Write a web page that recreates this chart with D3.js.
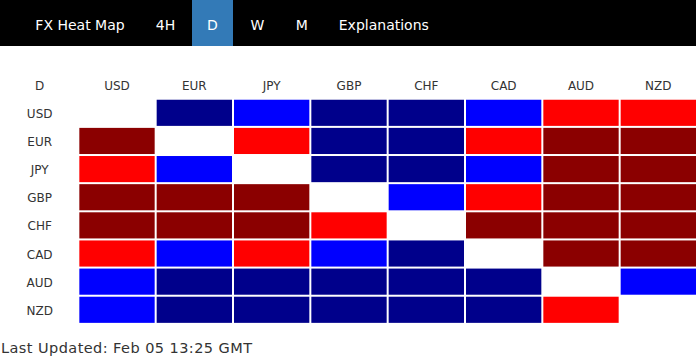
<!DOCTYPE html>
<html><head><meta charset="utf-8">
<script src="https://cdn.jsdelivr.net/npm/d3@7"></script>
<style>
html,body{margin:0;padding:0;background:#fff;}
svg{display:block;font-family:"DejaVu Sans",Verdana,sans-serif;}
</style></head>
<body>
<script>
const navItems = ["FX Heat Map","4H","D","W","M","Explanations"];
const navCenters = [80,165.5,212.5,257.5,301.7,383.8];
const activeTab = "D";
const currencies = ["USD","EUR","JPY","GBP","CHF","CAD","AUD","NZD"];
// strength levels: 2 strong up (dark blue), 1 up (blue), -1 down (red), -2 strong down (dark red), 0 = same pair
const USD = [ 0, 2, 1, 2, 2, 1,-1,-1];
const EUR = [-2, 0,-1, 2, 2,-1,-2,-2];
const JPY = [-1, 1, 0, 2, 2, 1,-2,-2];
const GBP = [-2,-2,-2, 0, 1,-1,-2,-2];
const CHF = [-2,-2,-2,-1, 0,-2,-2,-2];
const CAD = [-1, 1,-1, 1, 2, 0,-2,-2];
const AUD = [ 1, 2, 2, 2, 2, 2, 0, 1];
const NZD = [ 1, 2, 2, 2, 2, 2,-1, 0];
const rows = [USD,EUR,JPY,GBP,CHF,CAD,AUD,NZD];
const updated = "Last Updated: Feb 05 13:25 GMT";

const W = 696, H = 360;
const svg = d3.select("body").append("svg").attr("width",W).attr("height",H);

// nav bar
svg.append("rect").attr("x",0).attr("y",0).attr("width",W).attr("height",46).attr("fill","#000");
svg.append("rect").attr("x",192).attr("y",0).attr("width",41).attr("height",46).attr("fill","#337ab7");
svg.selectAll("text.nav").data(navItems).join("text").attr("class","nav")
  .attr("x",(d,i)=>navCenters[i]).attr("y",29.5).attr("text-anchor","middle")
  .attr("font-size",14).attr("fill","#fff").text(d=>d);

// grid
const cols = ["label"].concat(currencies);
const rowKeys = ["header"].concat(currencies);
const x = d3.scaleBand().domain(cols).range([0,W]);
const y = d3.scaleBand().domain(rowKeys).range([69.6,69.6+9*28.14]);
const gap = 2;
const color = d3.scaleOrdinal().domain([2,1,0,-1,-2]).range(["#00008b","#0000ff","#ffffff","#ff0000","#8b0000"]);

const cells = [];
rows.forEach((r,i)=>r.forEach((v,j)=>cells.push({row:currencies[i],col:currencies[j],v})));
svg.selectAll("rect.cell").data(cells).join("rect").attr("class","cell")
  .attr("x",d=>x(d.col)+gap).attr("y",d=>y(d.row)+gap)
  .attr("width",x.bandwidth()-gap).attr("height",y.bandwidth()-gap)
  .attr("fill",d=>color(d.v));

const lblFill = "#333";
svg.selectAll("text.colh").data(["D"].concat(currencies)).join("text").attr("class","colh")
  .attr("x",(d,i)=>x(cols[i])+gap+(x.bandwidth()-gap)/2)
  .attr("y",y("header")+gap+(y.bandwidth()-gap)/2+5)
  .attr("text-anchor","middle").attr("font-size",12).attr("fill",lblFill).text(d=>d);
svg.selectAll("text.rowh").data(currencies).join("text").attr("class","rowh")
  .attr("x",x("label")+gap+(x.bandwidth()-gap)/2)
  .attr("y",d=>y(d)+gap+(y.bandwidth()-gap)/2+5)
  .attr("text-anchor","middle").attr("font-size",12).attr("fill",lblFill).text(d=>d);

svg.append("text").attr("x",1).attr("y",353).attr("font-size",14.5)
  .attr("textLength",251).attr("lengthAdjust","spacing")
  .attr("fill",lblFill).text(updated);
</script>
</body></html>
